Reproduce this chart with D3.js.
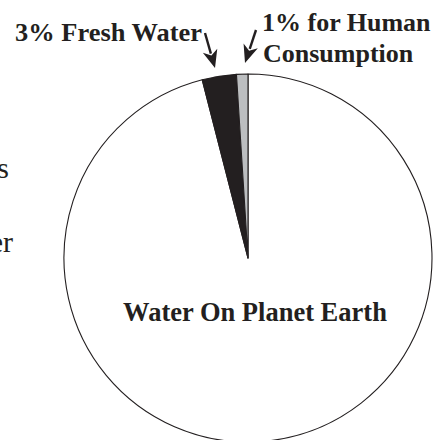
<!DOCTYPE html>
<html>
<head>
<meta charset="utf-8">
<script src="https://cdn.jsdelivr.net/npm/d3@7"></script>
<style>
  html, body { margin: 0; padding: 0; background: #fff; }
  svg { display: block; }
</style>
</head>
<body>
<script>
// ---- data ----
const categories = ["Salt Water", "Fresh Water", "Human Consumption"];
const values = [96, 3, 1];
const colors = ["#ffffff", "#231f20", "#bcbec0"];
const title = "Water On Planet Earth";
const freshLabel = ["3% Fresh Water"];
const humanLabel = ["1% for Human", "Consumption"];
const cutLegend = ["s", "er"];

const W = 446, H = 440;
const cx = 248, cy = 258, R = 184;
const ink = "#231f20";

const svg = d3.select("body").append("svg").attr("width", W).attr("height", H);

const pie = d3.pie().sort(null).startAngle(0).endAngle(2 * Math.PI);
const arcs = pie(values);
const arc = d3.arc().innerRadius(0).outerRadius(R);

const g = svg.append("g").attr("transform", `translate(${cx},${cy})`);
g.selectAll("path.slice")
  .data(arcs)
  .join("path")
  .attr("class", "slice")
  .attr("d", arc)
  .attr("fill", (d, i) => colors[i])
  .attr("stroke", ink)
  .attr("stroke-width", 1.1)
  .attr("stroke-linejoin", "round");

const font = "Liberation Serif, Times New Roman, serif";

// legend text fragments at the left edge (cut off in the original)
svg.selectAll("text.cut")
  .data(cutLegend)
  .join("text")
  .attr("class", "cut")
  .attr("x", (d, i) => [9, 13][i])
  .attr("y", (d, i) => [178, 252][i])
  .attr("text-anchor", "end")
  .attr("font-family", font)
  .attr("font-size", 30)
  .attr("fill", ink)
  .text(d => d);

svg.append("text")
  .attr("x", 15).attr("y", 41)
  .attr("font-family", font).attr("font-weight", "bold").attr("font-size", 26)
  .attr("fill", ink)
  .attr("textLength", 187).attr("lengthAdjust", "spacingAndGlyphs")
  .text(freshLabel[0]);

svg.selectAll("text.human")
  .data(humanLabel)
  .join("text")
  .attr("class", "human")
  .attr("x", (d, i) => [262, 263][i])
  .attr("y", (d, i) => 31 + i * 31)
  .attr("font-family", font).attr("font-weight", "bold").attr("font-size", 26)
  .attr("fill", ink)
  .text(d => d);

svg.append("text")
  .attr("x", 255).attr("y", 321)
  .attr("text-anchor", "middle")
  .attr("font-family", font).attr("font-weight", "bold").attr("font-size", 26.5)
  .attr("fill", ink)
  .text(title);

// arrows
function arrow(x1, y1, x2, y2) {
  const ang = Math.atan2(y2 - y1, x2 - x1);
  const len = 18, half = 7.5;
  const bx = x2 - len * Math.cos(ang), by = y2 - len * Math.sin(ang);
  const px = -Math.sin(ang), py = Math.cos(ang);
  svg.append("line")
    .attr("x1", x1).attr("y1", y1).attr("x2", bx + 3 * Math.cos(ang)).attr("y2", by + 3 * Math.sin(ang))
    .attr("stroke", ink).attr("stroke-width", 2.4);
  svg.append("path")
    .attr("d", `M${x2},${y2} L${bx + half * px},${by + half * py} L${bx + 5 * Math.cos(ang)},${by + 5 * Math.sin(ang)} L${bx - half * px},${by - half * py} Z`)
    .attr("fill", ink);
}
arrow(205, 33, 215, 68);
arrow(256, 30, 245, 63);
</script>
</body>
</html>
